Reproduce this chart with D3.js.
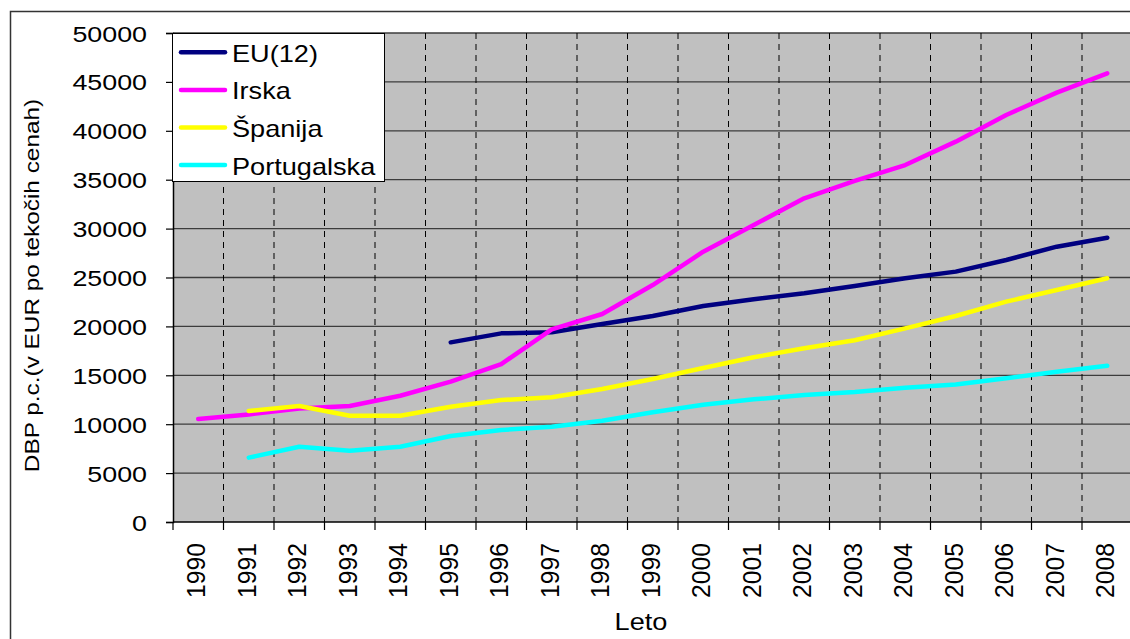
<!DOCTYPE html>
<html>
<head>
<meta charset="utf-8">
<script src="https://cdn.jsdelivr.net/npm/d3@7"></script>
<style>
  body { margin: 0; background: #fff; }
  text { font-family: "Liberation Sans", Arial, sans-serif; fill: #000; }
</style>
</head>
<body>
<div id="chart"></div>
<script>
// data (DBP p.c. in EUR)
var years = ["1990","1991","1992","1993","1994","1995","1996","1997","1998","1999",
             "2000","2001","2002","2003","2004","2005","2006","2007","2008"];
var eu12 = [null, null, null, null, null, 18370, 19290, 19400, 20240, 21060,
            22090, 22770, 23380, 24130, 24920, 25600, 26790, 28150, 29070];
var irska = [10530, 11000, 11600, 11860, 12910, 14350, 16150, 19700, 21270, 24230,
             27640, 30370, 33100, 34870, 36500, 38890, 41620, 43900, 45880];
var spanija = [null, 11350, 11860, 10870, 10870, 11790, 12470, 12750, 13600, 14620,
               15750, 16840, 17760, 18580, 19800, 21060, 22530, 23720, 24920];
var portugalska = [null, 6580, 7700, 7290, 7700, 8790, 9410, 9740, 10360, 11220,
                   11990, 12540, 12990, 13300, 13730, 14070, 14690, 15370, 15980];
var yTicks = [0, 5000, 10000, 15000, 20000, 25000, 30000, 35000, 40000, 45000, 50000];

var series = [
  { name: "EU(12)", values: eu12, color: "#000080" },
  { name: "Irska", values: irska, color: "#ff00ff" },
  { name: "Španija", values: spanija, color: "#ffff00" },
  { name: "Portugalska", values: portugalska, color: "#00ffff" }
];

var width = 1130, height = 639;
var plotLeft = 173, plotRight = 1132.5, plotTop = 33, plotBottom = 522;

var svg = d3.select("#chart").append("svg")
    .attr("width", width)
    .attr("height", height);

// outer chart frame
svg.append("rect")
    .attr("x", 10.5).attr("y", 11.5)
    .attr("width", 1140).attr("height", 660)
    .attr("fill", "#fff")
    .attr("stroke", "#333")
    .attr("stroke-width", 1.5);

var x = d3.scaleBand().domain(years).range([plotLeft, plotRight]);
var y = d3.scaleLinear().domain([0, 50000]).range([plotBottom, plotTop]);

// plot area
svg.append("rect")
    .attr("x", plotLeft).attr("y", plotTop)
    .attr("width", plotRight - plotLeft).attr("height", plotBottom - plotTop)
    .attr("fill", "#c0c0c0");

// horizontal gridlines
svg.append("g").selectAll("line")
    .data(yTicks.slice(1))
    .enter().append("line")
    .attr("x1", plotLeft).attr("x2", plotRight)
    .attr("y1", function (d) { return y(d); })
    .attr("y2", function (d) { return y(d); })
    .attr("stroke", "#3c3c3c")
    .attr("stroke-width", 1.3);

// vertical dashed gridlines at category boundaries
svg.append("g").selectAll("line")
    .data(years.slice(1))
    .enter().append("line")
    .attr("x1", function (d) { return x(d); })
    .attr("x2", function (d) { return x(d); })
    .attr("y1", plotTop).attr("y2", plotBottom)
    .attr("stroke", "#000")
    .attr("stroke-width", 1)
    .attr("stroke-dasharray", "6,5");

// y axis
var yAxis = svg.append("g")
    .attr("transform", "translate(" + plotLeft + ",0)")
    .call(d3.axisLeft(y).tickValues(yTicks).tickSize(7).tickFormat(d3.format("d")));
yAxis.select(".domain").attr("stroke", "#000").attr("stroke-width", 1.5);
yAxis.selectAll(".tick line").attr("stroke", "#000").attr("stroke-width", 1.2);
yAxis.selectAll(".tick text").remove();
svg.append("g").selectAll("text")
    .data(yTicks)
    .enter().append("text")
    .attr("transform", function (d) {
        return "translate(147," + (y(d) + 8.5) + ") scale(1.22,1)";
    })
    .attr("text-anchor", "end")
    .attr("font-size", 22)
    .text(function (d) { return d; });

// x axis: tick marks between categories
svg.append("line")
    .attr("x1", plotLeft).attr("x2", plotRight)
    .attr("y1", plotBottom).attr("y2", plotBottom)
    .attr("stroke", "#000").attr("stroke-width", 1.5);
svg.append("g").selectAll("line")
    .data(years)
    .enter().append("line")
    .attr("x1", function (d) { return x(d); })
    .attr("x2", function (d) { return x(d); })
    .attr("y1", plotBottom).attr("y2", plotBottom + 8)
    .attr("stroke", "#000").attr("stroke-width", 1.2);
svg.append("g").selectAll("text")
    .data(years)
    .enter().append("text")
    .attr("transform", function (d) {
        var cx = x(d) + x.bandwidth() / 2;
        return "translate(" + (cx + 7) + ",543) scale(1,0.95) rotate(-90)";
    })
    .attr("text-anchor", "end")
    .attr("font-size", 26)
    .text(function (d) { return d; });

// axis titles
svg.append("text")
    .attr("transform", "translate(641,630) scale(1.13,1)")
    .attr("text-anchor", "middle")
    .attr("font-size", 24)
    .text("Leto");
svg.append("text")
    .attr("transform", "translate(39,285.5) scale(1,1.25) rotate(-90)")
    .attr("text-anchor", "middle")
    .attr("font-size", 19.5)
    .text("DBP p.c.(v EUR po tekočih cenah)");

// series lines
var line = d3.line()
    .defined(function (d) { return d.v != null; })
    .x(function (d) { return x(d.year) + x.bandwidth() / 2; })
    .y(function (d) { return y(d.v); });

svg.append("g").selectAll("path")
    .data(series)
    .enter().append("path")
    .attr("fill", "none")
    .attr("stroke", function (d) { return d.color; })
    .attr("stroke-width", 4.5)
    .attr("stroke-linecap", "round")
    .attr("stroke-linejoin", "round")
    .attr("d", function (s) {
        return line(years.map(function (yr, i) { return { year: yr, v: s.values[i] }; }));
    });

// legend
var legend = svg.append("g");
legend.append("rect")
    .attr("x", 172.5).attr("y", 33.5)
    .attr("width", 212).attr("height", 148)
    .attr("fill", "#fff")
    .attr("stroke", "#000")
    .attr("stroke-width", 1);
var items = legend.selectAll("g.item")
    .data(series)
    .enter().append("g")
    .attr("class", "item")
    .attr("transform", function (d, i) { return "translate(0," + (52.3 + i * 37.6) + ")"; });
items.append("line")
    .attr("x1", 181).attr("x2", 225)
    .attr("y1", 0).attr("y2", 0)
    .attr("stroke", function (d) { return d.color; })
    .attr("stroke-width", 4.5)
    .attr("stroke-linecap", "round");
items.append("text")
    .attr("transform", "translate(232,9.5) scale(1.18,1)")
    .attr("font-size", 23)
    .text(function (d) { return d.name; });
</script>
</body>
</html>
